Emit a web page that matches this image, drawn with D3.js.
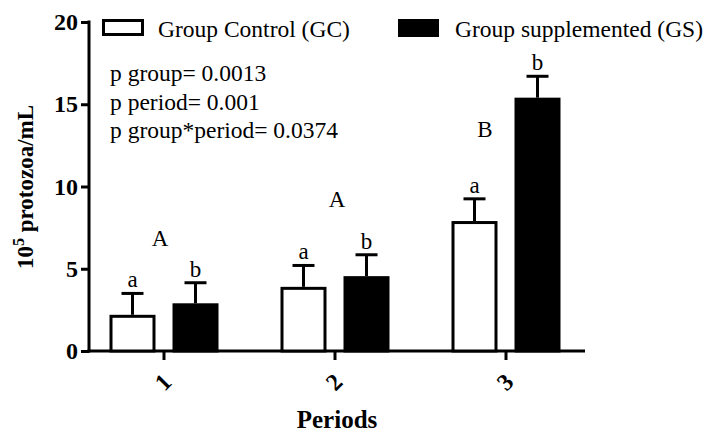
<!DOCTYPE html>
<html><head><meta charset="utf-8">
<script src="https://cdn.jsdelivr.net/npm/d3@7"></script>
<style>body{margin:0;background:#fff}</style>
</head><body>
<svg id="c" width="707" height="433"></svg>
<script>
const periods = ["1","2","3"];
const groups = ["Group Control (GC)","Group supplemented (GS)"];
const gcMean = [2.2, 3.9, 7.9];
const gcErr  = [1.3, 1.3, 1.35];
const gsMean = [2.9, 4.55, 15.4];
const gsErr  = [1.25, 1.3, 1.3];
const gcLetters = ["a","a","a"];
const gsLetters = ["b","b","b"];
const periodLetters = ["A","A","B"];
const periodLetterY = [6.4, 8.75, 13.0];
const yTicks = [0,5,10,15,20];
const stats = ["p group= 0.0013","p period= 0.001","p group*period= 0.0374"];

const serif = "'Liberation Serif','Times New Roman',serif";
const svg = d3.select("#c");
const y = d3.scaleLinear().domain([0,20]).range([351,22]);
const x0 = d3.scaleBand().domain(periods).range([78.5,591.5]);
const x1 = d3.scaleBand().domain(groups).range([-54.5,54.5]).paddingInner(0.27);
const cx = p => x0(p) + x0.bandwidth()/2;

// axes
const ya = svg.append("g").attr("transform","translate(89,0)")
  .call(d3.axisLeft(y).tickValues(yTicks).tickSize(8).tickPadding(3).tickSizeOuter(0));
ya.select(".domain").remove();
ya.selectAll(".tick line").attr("stroke","#000").attr("stroke-width",3);
ya.selectAll(".tick text").attr("font-family",serif).attr("font-weight","bold").attr("font-size",24).attr("fill","#000");
svg.append("line").attr("x1",89).attr("x2",89).attr("y1",y(0)+1.5).attr("y2",y(20)-1.5).attr("stroke","#000").attr("stroke-width",3);

const xa = svg.append("g").attr("transform","translate(0,351)")
  .call(d3.axisBottom(x0).tickSize(9).tickSizeOuter(0).tickFormat(d=>d));
xa.select(".domain").remove();
xa.selectAll(".tick line").attr("stroke","#000").attr("stroke-width",3);
xa.selectAll(".tick text").attr("font-family",serif).attr("font-weight","bold").attr("font-size",24).attr("fill","#000")
  .attr("y",0).attr("dy",0).attr("text-anchor","middle").attr("dominant-baseline","central")
  .attr("transform","translate(-1,31) rotate(-45)");
svg.append("line").attr("x1",87.5).attr("x2",585).attr("y1",351).attr("y2",351).attr("stroke","#000").attr("stroke-width",3);

// bars
const series = [
  {g:groups[0], m:gcMean, e:gcErr, fill:"#fff", lab:gcLetters},
  {g:groups[1], m:gsMean, e:gsErr, fill:"#000", lab:gsLetters}
];
series.forEach(s=>{
  periods.forEach((p,i)=>{
    const left = cx(p)+x1(s.g), bw = x1.bandwidth(), mid = left+bw/2;
    const top = y(s.m[i]), et = y(s.m[i]+s.e[i]);
    svg.append("line").attr("x1",mid).attr("x2",mid).attr("y1",top).attr("y2",et).attr("stroke","#000").attr("stroke-width",3);
    svg.append("line").attr("x1",mid-11).attr("x2",mid+11).attr("y1",et).attr("y2",et).attr("stroke","#000").attr("stroke-width",3);
    svg.append("rect").attr("x",left+1.5).attr("y",top+1.5).attr("width",bw-3).attr("height",y(0)-top-1.5)
      .attr("fill",s.fill).attr("stroke","#000").attr("stroke-width",3);
    svg.append("text").attr("x",mid).attr("y",et-6).attr("text-anchor","middle")
      .attr("font-family",serif).attr("font-size",23).text(s.lab[i]);
  });
});
const letterDx = [-4, 2, -21];
periods.forEach((p,i)=>{
  svg.append("text").attr("x",cx(p)+letterDx[i]).attr("y",y(periodLetterY[i])).attr("text-anchor","middle")
    .attr("font-family",serif).attr("font-size",23).text(periodLetters[i]);
});

// legend
svg.append("rect").attr("x",103.5).attr("y",20.5).attr("width",39).attr("height",14).attr("fill","#fff").attr("stroke","#000").attr("stroke-width",3);
svg.append("text").attr("x",158).attr("y",37).attr("font-family",serif).attr("font-size",23.5).text(groups[0]);
svg.append("rect").attr("x",398).attr("y",19).attr("width",41).attr("height",18).attr("fill","#000");
svg.append("text").attr("x",455).attr("y",37).attr("font-family",serif).attr("font-size",23.5).text(groups[1]);

// stats
stats.forEach((t,i)=>{
  svg.append("text").attr("x",110).attr("y",81+i*28.5).attr("font-family",serif).attr("font-size",23.5).text(t);
});

// axis titles
const yt = svg.append("text").attr("transform","translate(33,187) rotate(-90)").attr("text-anchor","middle")
  .attr("font-family",serif).attr("font-weight","bold").attr("font-size",23);
yt.append("tspan").text("10");
yt.append("tspan").attr("dy",-9).attr("font-size",16).text("5");
yt.append("tspan").attr("dy",9).text(" protozoa/mL");
svg.append("text").attr("x",337).attr("y",428).attr("text-anchor","middle")
  .attr("font-family",serif).attr("font-weight","bold").attr("font-size",25).text("Periods");
</script>
</body></html>
